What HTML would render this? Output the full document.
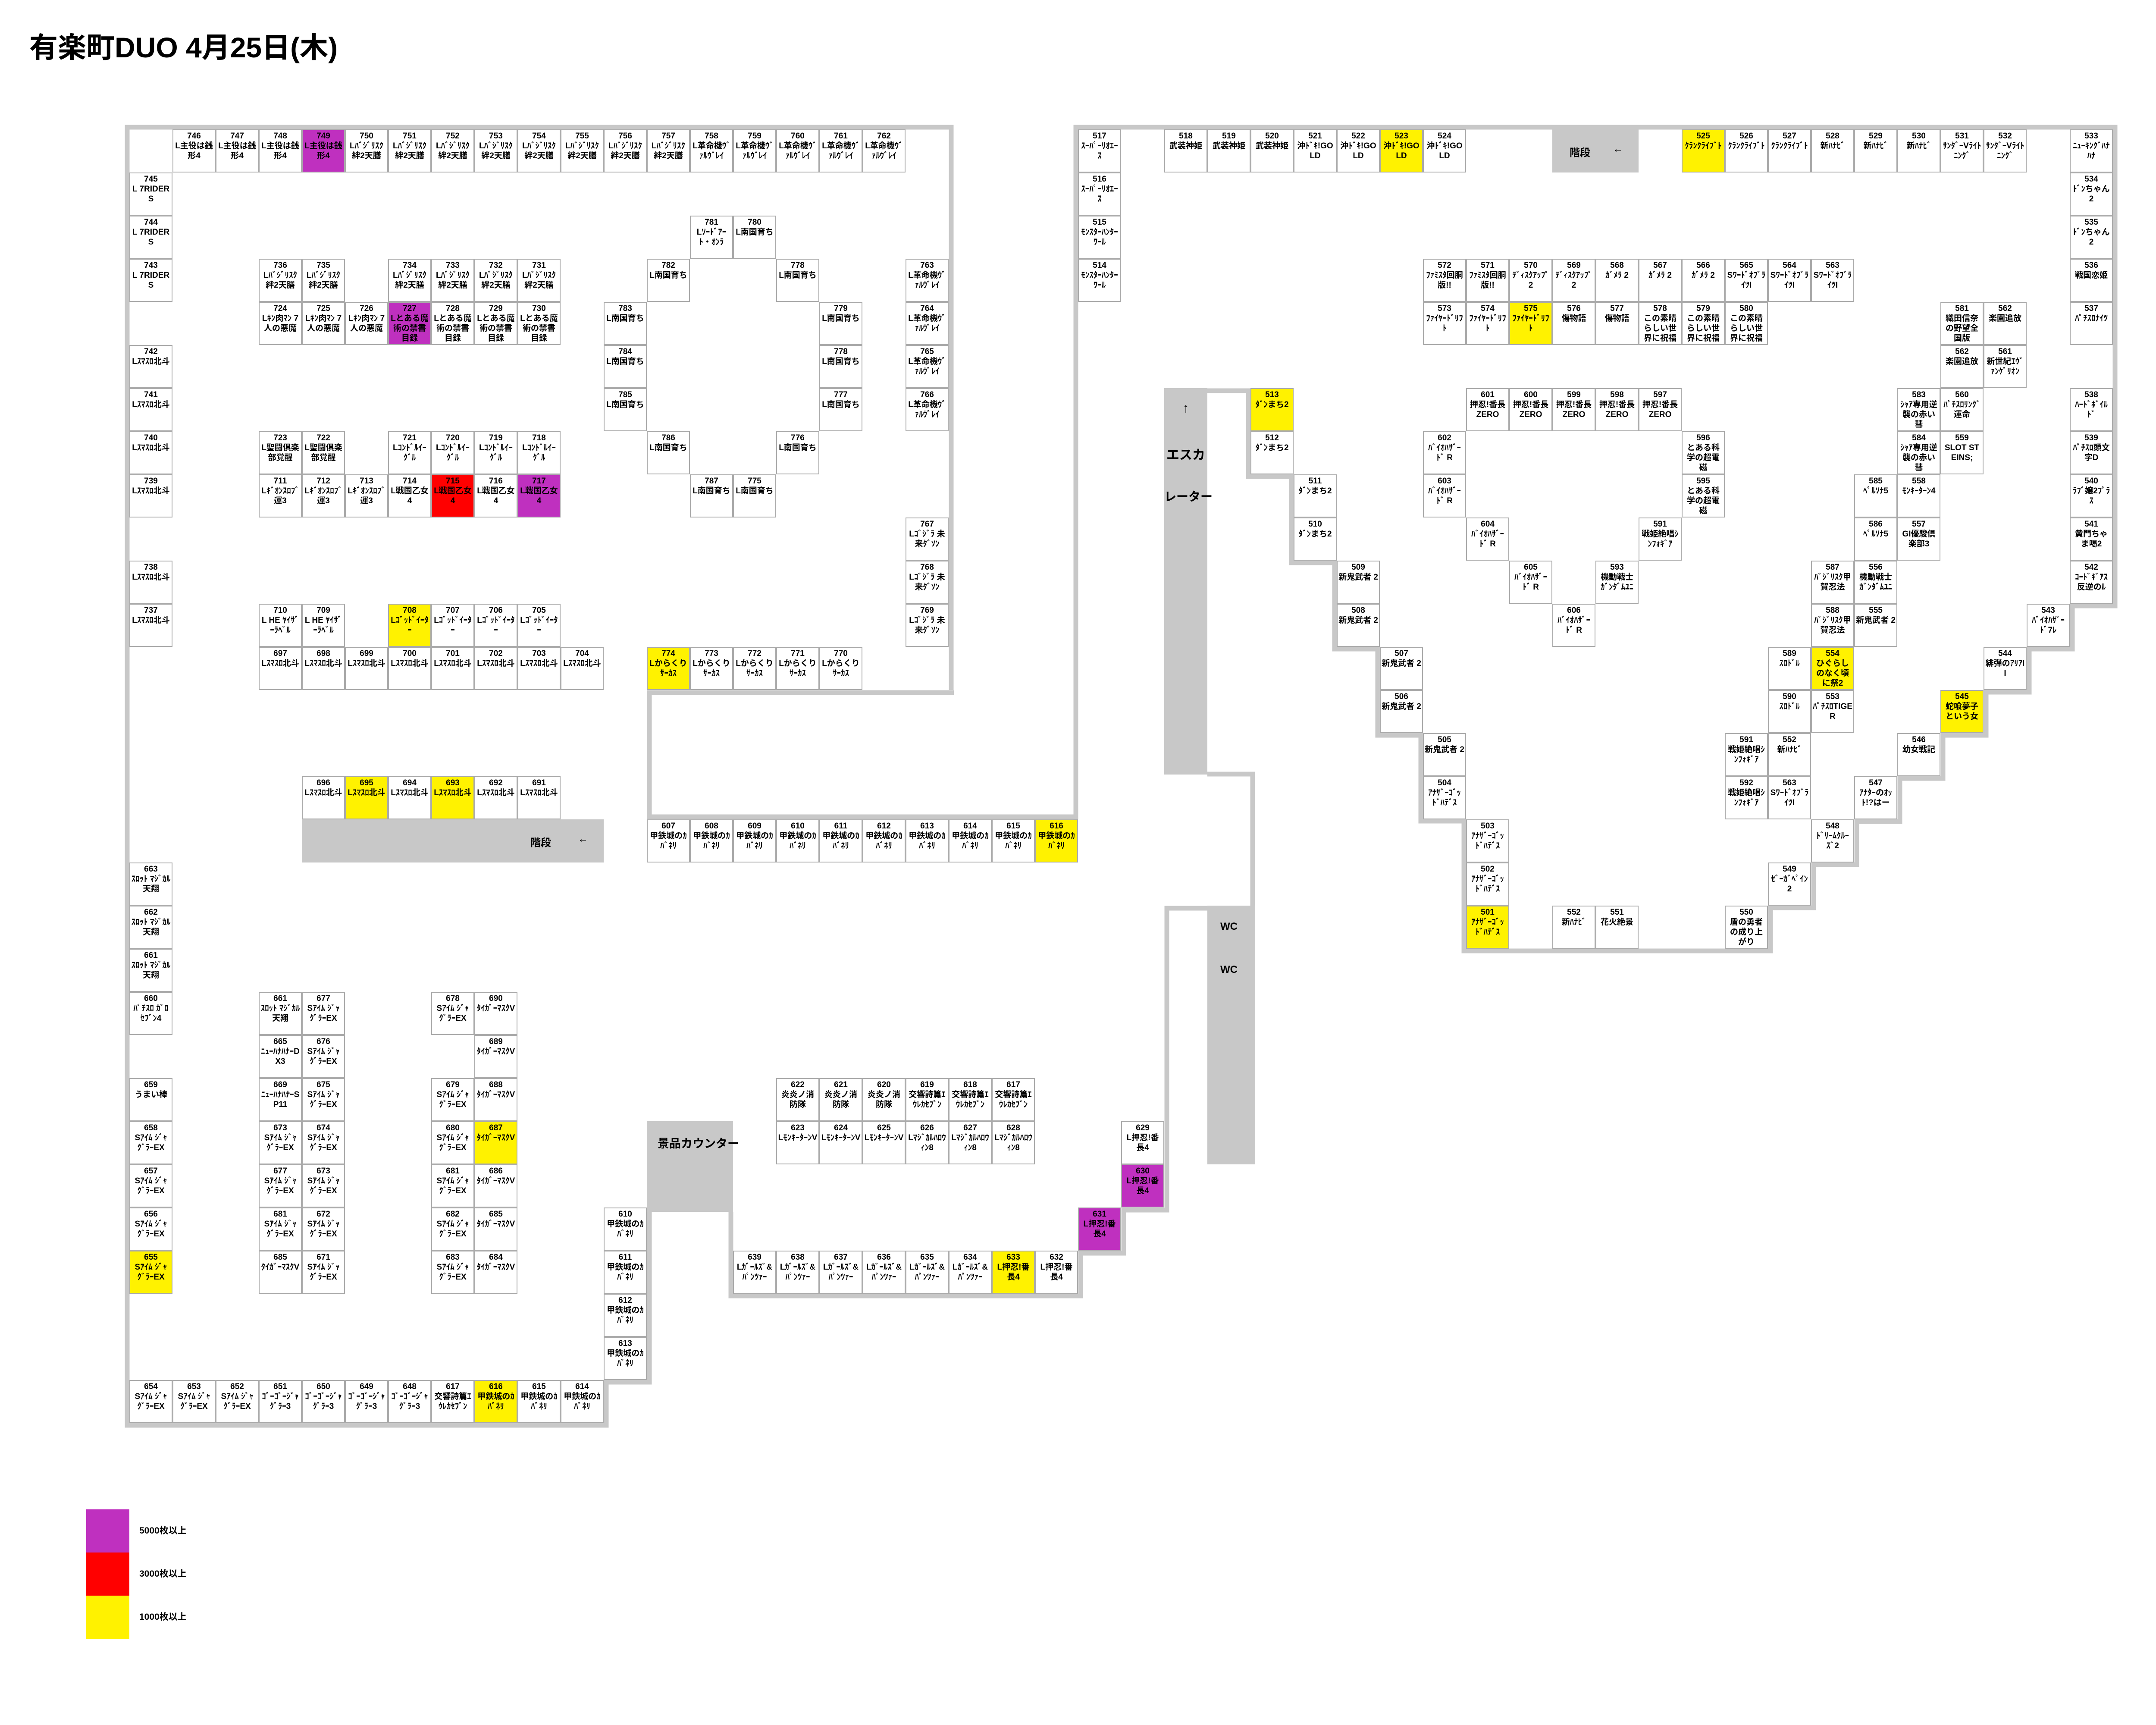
<!DOCTYPE html>
<html><head><meta charset="utf-8">
<style>
html,body{margin:0;padding:0;background:#fff;}
#w{position:relative;width:5300px;height:4000px;overflow:hidden;background:#fff;font-family:"Liberation Sans","Noto Sans CJK JP",sans-serif;}
.c{position:absolute;width:100px;height:100px;box-sizing:border-box;border:2px solid #aaa;background:#fff;font-weight:bold;font-size:19px;line-height:23px;text-align:center;padding:2px 2px 0;overflow:hidden;word-break:break-all;color:#000;}
.y{background:#fff200;}
.m{background:#bf30bf;}
.r{background:#ff0000;}
.g{position:absolute;background:#c8c8c8;font-weight:bold;color:#000;}
svg{position:absolute;left:0;top:0;}
.t{position:absolute;font-weight:bold;}
</style></head><body><div id="w">
<div class="t" style="left:68px;top:70px;font-size:66px;line-height:80px;">有楽町DUO 4月25日(木)</div>
<svg width="5300" height="4000"><g fill="none" stroke="#c8c8c8" stroke-width="11" stroke-linejoin="miter">
<polyline points="2206,1600 2206,295 295,295 295,3305 1406,3305 1406,3205 1506,3205 1506,2800"/>
<polyline points="2212,1606 1506,1606 1506,1894 2495,1894"/>
<polyline points="2495,1900 2495,295 4905,295 4905,1405 4806,1405 4806,1505 4706,1505 4706,1605 4606,1605 4606,1705 4506,1705 4506,1805 4406,1805 4406,1905 4306,1905 4306,2005 4206,2005 4206,2105 4106,2105 4106,2205 3395,2205 3395,1904 3295,1904 3295,1705 3195,1705 3195,1505 3095,1505 3095,1305 2995,1305 2995,1105 2895,1105 2895,906 2800,906"/>
<polyline points="2800,1795 2905,1795 2905,2700"/>
<polyline points="2800,2106 2706,2106 2706,2806 2606,2806 2606,2906 2506,2906 2506,3005 1695,3005 1695,2810"/>
</g></svg>
<div class="g" style="left:2700px;top:900px;width:100px;height:896px;text-align:center;font-size:30px;">
<div style="position:absolute;top:30px;width:100px;">↑</div>
<div style="position:absolute;top:130px;width:100px;">エスカ</div>
<div style="position:absolute;top:230px;width:100px;white-space:nowrap;font-size:28px;">レーター</div></div>
<div class="g" style="left:2800px;top:2100px;width:111px;height:600px;font-size:24px;text-align:center;">
<div style="position:absolute;top:35px;width:100px;">WC</div><div style="position:absolute;top:135px;width:100px;">WC</div></div>
<div class="g" style="left:1500px;top:2600px;width:200px;height:210px;font-size:27px;"><div style="position:absolute;left:25px;top:30px;white-space:nowrap;">景品カウンター</div></div>
<div class="g" style="left:700px;top:1900px;width:700px;height:100px;font-size:24px;"><span style="position:absolute;left:530px;top:34px;">階段</span><span style="position:absolute;left:640px;top:32px;">←</span></div>
<div class="g" style="left:3600px;top:300px;width:200px;height:100px;font-size:24px;"><span style="position:absolute;left:40px;top:34px;">階段</span><span style="position:absolute;left:140px;top:32px;">←</span></div>

<!-- left hall top row -->
<div class="c" style="left:400px;top:300px">746<br>L主役は銭形4</div>
<div class="c" style="left:500px;top:300px">747<br>L主役は銭形4</div>
<div class="c" style="left:600px;top:300px">748<br>L主役は銭形4</div>
<div class="c m" style="left:700px;top:300px">749<br>L主役は銭形4</div>
<div class="c" style="left:800px;top:300px">750<br>Lﾊﾞｼﾞﾘｽｸ絆2天膳</div>
<div class="c" style="left:900px;top:300px">751<br>Lﾊﾞｼﾞﾘｽｸ絆2天膳</div>
<div class="c" style="left:1000px;top:300px">752<br>Lﾊﾞｼﾞﾘｽｸ絆2天膳</div>
<div class="c" style="left:1100px;top:300px">753<br>Lﾊﾞｼﾞﾘｽｸ絆2天膳</div>
<div class="c" style="left:1200px;top:300px">754<br>Lﾊﾞｼﾞﾘｽｸ絆2天膳</div>
<div class="c" style="left:1300px;top:300px">755<br>Lﾊﾞｼﾞﾘｽｸ絆2天膳</div>
<div class="c" style="left:1400px;top:300px">756<br>Lﾊﾞｼﾞﾘｽｸ絆2天膳</div>
<div class="c" style="left:1500px;top:300px">757<br>Lﾊﾞｼﾞﾘｽｸ絆2天膳</div>
<div class="c" style="left:1600px;top:300px">758<br>L革命機ｳﾞｧﾙｳﾞﾚｲ</div>
<div class="c" style="left:1700px;top:300px">759<br>L革命機ｳﾞｧﾙｳﾞﾚｲ</div>
<div class="c" style="left:1800px;top:300px">760<br>L革命機ｳﾞｧﾙｳﾞﾚｲ</div>
<div class="c" style="left:1900px;top:300px">761<br>L革命機ｳﾞｧﾙｳﾞﾚｲ</div>
<div class="c" style="left:2000px;top:300px">762<br>L革命機ｳﾞｧﾙｳﾞﾚｲ</div>
<div class="c" style="left:2100px;top:600px">763<br>L革命機ｳﾞｧﾙｳﾞﾚｲ</div>
<div class="c" style="left:2100px;top:700px">764<br>L革命機ｳﾞｧﾙｳﾞﾚｲ</div>
<div class="c" style="left:2100px;top:800px">765<br>L革命機ｳﾞｧﾙｳﾞﾚｲ</div>
<div class="c" style="left:2100px;top:900px">766<br>L革命機ｳﾞｧﾙｳﾞﾚｲ</div>
<div class="c" style="left:2100px;top:1200px">767<br>Lｺﾞｼﾞﾗ 未来ﾀﾞｿﾝ</div>
<div class="c" style="left:2100px;top:1300px">768<br>Lｺﾞｼﾞﾗ 未来ﾀﾞｿﾝ</div>
<div class="c" style="left:2100px;top:1400px">769<br>Lｺﾞｼﾞﾗ 未来ﾀﾞｿﾝ</div>
<!-- left column -->
<div class="c" style="left:300px;top:400px">745<br>L 7RIDERS</div>
<div class="c" style="left:300px;top:500px">744<br>L 7RIDERS</div>
<div class="c" style="left:300px;top:600px">743<br>L 7RIDERS</div>
<div class="c" style="left:300px;top:800px">742<br>Lｽﾏｽﾛ北斗</div>
<div class="c" style="left:300px;top:900px">741<br>Lｽﾏｽﾛ北斗</div>
<div class="c" style="left:300px;top:1000px">740<br>Lｽﾏｽﾛ北斗</div>
<div class="c" style="left:300px;top:1100px">739<br>Lｽﾏｽﾛ北斗</div>
<div class="c" style="left:300px;top:1300px">738<br>Lｽﾏｽﾛ北斗</div>
<div class="c" style="left:300px;top:1400px">737<br>Lｽﾏｽﾛ北斗</div>
<!-- islands -->
<div class="c" style="left:600px;top:600px">736<br>Lﾊﾞｼﾞﾘｽｸ絆2天膳</div>
<div class="c" style="left:700px;top:600px">735<br>Lﾊﾞｼﾞﾘｽｸ絆2天膳</div>
<div class="c" style="left:900px;top:600px">734<br>Lﾊﾞｼﾞﾘｽｸ絆2天膳</div>
<div class="c" style="left:1000px;top:600px">733<br>Lﾊﾞｼﾞﾘｽｸ絆2天膳</div>
<div class="c" style="left:1100px;top:600px">732<br>Lﾊﾞｼﾞﾘｽｸ絆2天膳</div>
<div class="c" style="left:1200px;top:600px">731<br>Lﾊﾞｼﾞﾘｽｸ絆2天膳</div>
<div class="c" style="left:600px;top:700px">724<br>Lｷﾝ肉ﾏﾝ 7人の悪魔</div>
<div class="c" style="left:700px;top:700px">725<br>Lｷﾝ肉ﾏﾝ 7人の悪魔</div>
<div class="c" style="left:800px;top:700px">726<br>Lｷﾝ肉ﾏﾝ 7人の悪魔</div>
<div class="c m" style="left:900px;top:700px">727<br>Lとある魔術の禁書目録</div>
<div class="c" style="left:1000px;top:700px">728<br>Lとある魔術の禁書目録</div>
<div class="c" style="left:1100px;top:700px">729<br>Lとある魔術の禁書目録</div>
<div class="c" style="left:1200px;top:700px">730<br>Lとある魔術の禁書目録</div>
<div class="c" style="left:600px;top:1000px">723<br>L聖闘俱楽部覚醒</div>
<div class="c" style="left:700px;top:1000px">722<br>L聖闘俱楽部覚醒</div>
<div class="c" style="left:900px;top:1000px">721<br>Lｺﾝﾄﾞﾙｲｰｸﾞﾙ</div>
<div class="c" style="left:1000px;top:1000px">720<br>Lｺﾝﾄﾞﾙｲｰｸﾞﾙ</div>
<div class="c" style="left:1100px;top:1000px">719<br>Lｺﾝﾄﾞﾙｲｰｸﾞﾙ</div>
<div class="c" style="left:1200px;top:1000px">718<br>Lｺﾝﾄﾞﾙｲｰｸﾞﾙ</div>
<div class="c" style="left:600px;top:1100px">711<br>Lｷﾞｵﾝｽﾛﾌﾞ運3</div>
<div class="c" style="left:700px;top:1100px">712<br>Lｷﾞｵﾝｽﾛﾌﾞ運3</div>
<div class="c" style="left:800px;top:1100px">713<br>Lｷﾞｵﾝｽﾛﾌﾞ運3</div>
<div class="c" style="left:900px;top:1100px">714<br>L戦国乙女4</div>
<div class="c r" style="left:1000px;top:1100px">715<br>L戦国乙女4</div>
<div class="c" style="left:1100px;top:1100px">716<br>L戦国乙女4</div>
<div class="c m" style="left:1200px;top:1100px">717<br>L戦国乙女4</div>
<div class="c" style="left:600px;top:1400px">710<br>L HE ﾔｲｻﾞｰﾗﾍﾞﾙ</div>
<div class="c" style="left:700px;top:1400px">709<br>L HE ﾔｲｻﾞｰﾗﾍﾞﾙ</div>
<div class="c y" style="left:900px;top:1400px">708<br>Lｺﾞｯﾄﾞｲｰﾀｰ</div>
<div class="c" style="left:1000px;top:1400px">707<br>Lｺﾞｯﾄﾞｲｰﾀｰ</div>
<div class="c" style="left:1100px;top:1400px">706<br>Lｺﾞｯﾄﾞｲｰﾀｰ</div>
<div class="c" style="left:1200px;top:1400px">705<br>Lｺﾞｯﾄﾞｲｰﾀｰ</div>
<div class="c" style="left:600px;top:1500px">697<br>Lｽﾏｽﾛ北斗</div>
<div class="c" style="left:700px;top:1500px">698<br>Lｽﾏｽﾛ北斗</div>
<div class="c" style="left:800px;top:1500px">699<br>Lｽﾏｽﾛ北斗</div>
<div class="c" style="left:900px;top:1500px">700<br>Lｽﾏｽﾛ北斗</div>
<div class="c" style="left:1000px;top:1500px">701<br>Lｽﾏｽﾛ北斗</div>
<div class="c" style="left:1100px;top:1500px">702<br>Lｽﾏｽﾛ北斗</div>
<div class="c" style="left:1200px;top:1500px">703<br>Lｽﾏｽﾛ北斗</div>
<div class="c" style="left:1300px;top:1500px">704<br>Lｽﾏｽﾛ北斗</div>
<div class="c" style="left:700px;top:1800px">696<br>Lｽﾏｽﾛ北斗</div>
<div class="c y" style="left:800px;top:1800px">695<br>Lｽﾏｽﾛ北斗</div>
<div class="c" style="left:900px;top:1800px">694<br>Lｽﾏｽﾛ北斗</div>
<div class="c y" style="left:1000px;top:1800px">693<br>Lｽﾏｽﾛ北斗</div>
<div class="c" style="left:1100px;top:1800px">692<br>Lｽﾏｽﾛ北斗</div>
<div class="c" style="left:1200px;top:1800px">691<br>Lｽﾏｽﾛ北斗</div>
<!-- nankoku ring -->
<div class="c" style="left:1600px;top:500px">781<br>Lｿｰﾄﾞｱｰﾄ・ｵﾝﾗ</div>
<div class="c" style="left:1700px;top:500px">780<br>L南国育ち</div>
<div class="c" style="left:1500px;top:600px">782<br>L南国育ち</div>
<div class="c" style="left:1800px;top:600px">778<br>L南国育ち</div>
<div class="c" style="left:1400px;top:700px">783<br>L南国育ち</div>
<div class="c" style="left:1900px;top:700px">779<br>L南国育ち</div>
<div class="c" style="left:1400px;top:800px">784<br>L南国育ち</div>
<div class="c" style="left:1900px;top:800px">778<br>L南国育ち</div>
<div class="c" style="left:1400px;top:900px">785<br>L南国育ち</div>
<div class="c" style="left:1900px;top:900px">777<br>L南国育ち</div>
<div class="c" style="left:1500px;top:1000px">786<br>L南国育ち</div>
<div class="c" style="left:1800px;top:1000px">776<br>L南国育ち</div>
<div class="c" style="left:1600px;top:1100px">787<br>L南国育ち</div>
<div class="c" style="left:1700px;top:1100px">775<br>L南国育ち</div>
<div class="c y" style="left:1500px;top:1500px">774<br>Lからくりｻｰｶｽ</div>
<div class="c" style="left:1600px;top:1500px">773<br>Lからくりｻｰｶｽ</div>
<div class="c" style="left:1700px;top:1500px">772<br>Lからくりｻｰｶｽ</div>
<div class="c" style="left:1800px;top:1500px">771<br>Lからくりｻｰｶｽ</div>
<div class="c" style="left:1900px;top:1500px">770<br>Lからくりｻｰｶｽ</div>
<!-- 607 row -->
<div class="c" style="left:1500px;top:1900px">607<br>甲鉄城のｶﾊﾞﾈﾘ</div>
<div class="c" style="left:1600px;top:1900px">608<br>甲鉄城のｶﾊﾞﾈﾘ</div>
<div class="c" style="left:1700px;top:1900px">609<br>甲鉄城のｶﾊﾞﾈﾘ</div>
<div class="c" style="left:1800px;top:1900px">610<br>甲鉄城のｶﾊﾞﾈﾘ</div>
<div class="c" style="left:1900px;top:1900px">611<br>甲鉄城のｶﾊﾞﾈﾘ</div>
<div class="c" style="left:2000px;top:1900px">612<br>甲鉄城のｶﾊﾞﾈﾘ</div>
<div class="c" style="left:2100px;top:1900px">613<br>甲鉄城のｶﾊﾞﾈﾘ</div>
<div class="c" style="left:2200px;top:1900px">614<br>甲鉄城のｶﾊﾞﾈﾘ</div>
<div class="c" style="left:2300px;top:1900px">615<br>甲鉄城のｶﾊﾞﾈﾘ</div>
<div class="c y" style="left:2400px;top:1900px">616<br>甲鉄城のｶﾊﾞﾈﾘ</div>
<!-- lower left -->
<div class="c" style="left:300px;top:2000px">663<br>ｽﾛｯﾄ ﾏｼﾞｶﾙ天翔</div>
<div class="c" style="left:300px;top:2100px">662<br>ｽﾛｯﾄ ﾏｼﾞｶﾙ天翔</div>
<div class="c" style="left:300px;top:2200px">661<br>ｽﾛｯﾄ ﾏｼﾞｶﾙ天翔</div>
<div class="c" style="left:300px;top:2300px">660<br>ﾊﾟﾁｽﾛ ｶﾞﾛ ｾﾌﾞﾝ4</div>
<div class="c" style="left:300px;top:2500px">659<br>うまい棒</div>
<div class="c" style="left:300px;top:2600px">658<br>Sｱｲﾑ ｼﾞｬｸﾞﾗｰEX</div>
<div class="c" style="left:300px;top:2700px">657<br>Sｱｲﾑ ｼﾞｬｸﾞﾗｰEX</div>
<div class="c" style="left:300px;top:2800px">656<br>Sｱｲﾑ ｼﾞｬｸﾞﾗｰEX</div>
<div class="c y" style="left:300px;top:2900px">655<br>Sｱｲﾑ ｼﾞｬｸﾞﾗｰEX</div>
<div class="c" style="left:600px;top:2300px">661<br>ｽﾛｯﾄ ﾏｼﾞｶﾙ天翔</div>
<div class="c" style="left:600px;top:2400px">665<br>ﾆｭｰﾊﾅﾊﾅｰDX3</div>
<div class="c" style="left:600px;top:2500px">669<br>ﾆｭｰﾊﾅﾊﾅｰSP11</div>
<div class="c" style="left:600px;top:2600px">673<br>Sｱｲﾑ ｼﾞｬｸﾞﾗｰEX</div>
<div class="c" style="left:600px;top:2700px">677<br>Sｱｲﾑ ｼﾞｬｸﾞﾗｰEX</div>
<div class="c" style="left:600px;top:2800px">681<br>Sｱｲﾑ ｼﾞｬｸﾞﾗｰEX</div>
<div class="c" style="left:600px;top:2900px">685<br>ﾀｲｶﾞｰﾏｽｸV</div>
<div class="c" style="left:700px;top:2300px">677<br>Sｱｲﾑ ｼﾞｬｸﾞﾗｰEX</div>
<div class="c" style="left:700px;top:2400px">676<br>Sｱｲﾑ ｼﾞｬｸﾞﾗｰEX</div>
<div class="c" style="left:700px;top:2500px">675<br>Sｱｲﾑ ｼﾞｬｸﾞﾗｰEX</div>
<div class="c" style="left:700px;top:2600px">674<br>Sｱｲﾑ ｼﾞｬｸﾞﾗｰEX</div>
<div class="c" style="left:700px;top:2700px">673<br>Sｱｲﾑ ｼﾞｬｸﾞﾗｰEX</div>
<div class="c" style="left:700px;top:2800px">672<br>Sｱｲﾑ ｼﾞｬｸﾞﾗｰEX</div>
<div class="c" style="left:700px;top:2900px">671<br>Sｱｲﾑ ｼﾞｬｸﾞﾗｰEX</div>
<div class="c" style="left:1000px;top:2300px">678<br>Sｱｲﾑ ｼﾞｬｸﾞﾗｰEX</div>
<div class="c" style="left:1000px;top:2500px">679<br>Sｱｲﾑ ｼﾞｬｸﾞﾗｰEX</div>
<div class="c" style="left:1000px;top:2600px">680<br>Sｱｲﾑ ｼﾞｬｸﾞﾗｰEX</div>
<div class="c" style="left:1000px;top:2700px">681<br>Sｱｲﾑ ｼﾞｬｸﾞﾗｰEX</div>
<div class="c" style="left:1000px;top:2800px">682<br>Sｱｲﾑ ｼﾞｬｸﾞﾗｰEX</div>
<div class="c" style="left:1000px;top:2900px">683<br>Sｱｲﾑ ｼﾞｬｸﾞﾗｰEX</div>
<div class="c" style="left:1100px;top:2300px">690<br>ﾀｲｶﾞｰﾏｽｸV</div>
<div class="c" style="left:1100px;top:2400px">689<br>ﾀｲｶﾞｰﾏｽｸV</div>
<div class="c" style="left:1100px;top:2500px">688<br>ﾀｲｶﾞｰﾏｽｸV</div>
<div class="c y" style="left:1100px;top:2600px">687<br>ﾀｲｶﾞｰﾏｽｸV</div>
<div class="c" style="left:1100px;top:2700px">686<br>ﾀｲｶﾞｰﾏｽｸV</div>
<div class="c" style="left:1100px;top:2800px">685<br>ﾀｲｶﾞｰﾏｽｸV</div>
<div class="c" style="left:1100px;top:2900px">684<br>ﾀｲｶﾞｰﾏｽｸV</div>
<div class="c" style="left:1400px;top:2800px">610<br>甲鉄城のｶﾊﾞﾈﾘ</div>
<div class="c" style="left:1400px;top:2900px">611<br>甲鉄城のｶﾊﾞﾈﾘ</div>
<div class="c" style="left:1400px;top:3000px">612<br>甲鉄城のｶﾊﾞﾈﾘ</div>
<div class="c" style="left:1400px;top:3100px">613<br>甲鉄城のｶﾊﾞﾈﾘ</div>
<div class="c" style="left:300px;top:3200px">654<br>Sｱｲﾑ ｼﾞｬｸﾞﾗｰEX</div>
<div class="c" style="left:400px;top:3200px">653<br>Sｱｲﾑ ｼﾞｬｸﾞﾗｰEX</div>
<div class="c" style="left:500px;top:3200px">652<br>Sｱｲﾑ ｼﾞｬｸﾞﾗｰEX</div>
<div class="c" style="left:600px;top:3200px">651<br>ｺﾞｰｺﾞｰｼﾞｬｸﾞﾗｰ3</div>
<div class="c" style="left:700px;top:3200px">650<br>ｺﾞｰｺﾞｰｼﾞｬｸﾞﾗｰ3</div>
<div class="c" style="left:800px;top:3200px">649<br>ｺﾞｰｺﾞｰｼﾞｬｸﾞﾗｰ3</div>
<div class="c" style="left:900px;top:3200px">648<br>ｺﾞｰｺﾞｰｼﾞｬｸﾞﾗｰ3</div>
<div class="c" style="left:1000px;top:3200px">617<br>交響詩篇ｴｳﾚｶｾﾌﾞﾝ</div>
<div class="c y" style="left:1100px;top:3200px">616<br>甲鉄城のｶﾊﾞﾈﾘ</div>
<div class="c" style="left:1200px;top:3200px">615<br>甲鉄城のｶﾊﾞﾈﾘ</div>
<div class="c" style="left:1300px;top:3200px">614<br>甲鉄城のｶﾊﾞﾈﾘ</div>
<!-- middle bottom -->
<div class="c" style="left:1800px;top:2500px">622<br>炎炎ノ消防隊</div>
<div class="c" style="left:1900px;top:2500px">621<br>炎炎ノ消防隊</div>
<div class="c" style="left:2000px;top:2500px">620<br>炎炎ノ消防隊</div>
<div class="c" style="left:2100px;top:2500px">619<br>交響詩篇ｴｳﾚｶｾﾌﾞﾝ</div>
<div class="c" style="left:2200px;top:2500px">618<br>交響詩篇ｴｳﾚｶｾﾌﾞﾝ</div>
<div class="c" style="left:2300px;top:2500px">617<br>交響詩篇ｴｳﾚｶｾﾌﾞﾝ</div>
<div class="c" style="left:1800px;top:2600px">623<br>LﾓﾝｷｰﾀｰﾝV</div>
<div class="c" style="left:1900px;top:2600px">624<br>LﾓﾝｷｰﾀｰﾝV</div>
<div class="c" style="left:2000px;top:2600px">625<br>LﾓﾝｷｰﾀｰﾝV</div>
<div class="c" style="left:2100px;top:2600px">626<br>Lﾏｼﾞｶﾙﾊﾛｳｨﾝ8</div>
<div class="c" style="left:2200px;top:2600px">627<br>Lﾏｼﾞｶﾙﾊﾛｳｨﾝ8</div>
<div class="c" style="left:2300px;top:2600px">628<br>Lﾏｼﾞｶﾙﾊﾛｳｨﾝ8</div>
<div class="c" style="left:1700px;top:2900px">639<br>Lｶﾞｰﾙｽﾞ&amp;ﾊﾟﾝﾂｧｰ</div>
<div class="c" style="left:1800px;top:2900px">638<br>Lｶﾞｰﾙｽﾞ&amp;ﾊﾟﾝﾂｧｰ</div>
<div class="c" style="left:1900px;top:2900px">637<br>Lｶﾞｰﾙｽﾞ&amp;ﾊﾟﾝﾂｧｰ</div>
<div class="c" style="left:2000px;top:2900px">636<br>Lｶﾞｰﾙｽﾞ&amp;ﾊﾟﾝﾂｧｰ</div>
<div class="c" style="left:2100px;top:2900px">635<br>Lｶﾞｰﾙｽﾞ&amp;ﾊﾟﾝﾂｧｰ</div>
<div class="c" style="left:2200px;top:2900px">634<br>Lｶﾞｰﾙｽﾞ&amp;ﾊﾟﾝﾂｧｰ</div>
<div class="c y" style="left:2300px;top:2900px">633<br>L押忍!番長4</div>
<div class="c" style="left:2400px;top:2900px">632<br>L押忍!番長4</div>
<div class="c m" style="left:2500px;top:2800px">631<br>L押忍!番長4</div>
<div class="c m" style="left:2600px;top:2700px">630<br>L押忍!番長4</div>
<div class="c" style="left:2600px;top:2600px">629<br>L押忍!番長4</div>
<!-- right hall -->
<div class="c" style="left:2500px;top:300px">517<br>ｽｰﾊﾟｰﾘｵｴｰｽ</div>
<div class="c" style="left:2500px;top:400px">516<br>ｽｰﾊﾟｰﾘｵｴｰｽ</div>
<div class="c" style="left:2500px;top:500px">515<br>ﾓﾝｽﾀｰﾊﾝﾀｰﾜｰﾙ</div>
<div class="c" style="left:2500px;top:600px">514<br>ﾓﾝｽﾀｰﾊﾝﾀｰﾜｰﾙ</div>
<div class="c" style="left:2700px;top:300px">518<br>武装神姫</div>
<div class="c" style="left:2800px;top:300px">519<br>武装神姫</div>
<div class="c" style="left:2900px;top:300px">520<br>武装神姫</div>
<div class="c" style="left:3000px;top:300px">521<br>沖ﾄﾞｷ!GOLD</div>
<div class="c" style="left:3100px;top:300px">522<br>沖ﾄﾞｷ!GOLD</div>
<div class="c y" style="left:3200px;top:300px">523<br>沖ﾄﾞｷ!GOLD</div>
<div class="c" style="left:3300px;top:300px">524<br>沖ﾄﾞｷ!GOLD</div>
<div class="c y" style="left:3900px;top:300px">525<br>ｸﾗﾝｸﾗｲﾌﾞﾄ</div>
<div class="c" style="left:4000px;top:300px">526<br>ｸﾗﾝｸﾗｲﾌﾞﾄ</div>
<div class="c" style="left:4100px;top:300px">527<br>ｸﾗﾝｸﾗｲﾌﾞﾄ</div>
<div class="c" style="left:4200px;top:300px">528<br>新ﾊﾅﾋﾞ</div>
<div class="c" style="left:4300px;top:300px">529<br>新ﾊﾅﾋﾞ</div>
<div class="c" style="left:4400px;top:300px">530<br>新ﾊﾅﾋﾞ</div>
<div class="c" style="left:4500px;top:300px">531<br>ｻﾝﾀﾞｰVﾗｲﾄﾆﾝｸﾞ</div>
<div class="c" style="left:4600px;top:300px">532<br>ｻﾝﾀﾞｰVﾗｲﾄﾆﾝｸﾞ</div>
<div class="c" style="left:4800px;top:300px">533<br>ﾆｭｰｷﾝｸﾞﾊﾅﾊﾅ</div>
<div class="c" style="left:4800px;top:400px">534<br>ﾄﾞﾝちゃん2</div>
<div class="c" style="left:4800px;top:500px">535<br>ﾄﾞﾝちゃん2</div>
<div class="c" style="left:4800px;top:600px">536<br>戦国恋姫</div>
<div class="c" style="left:4800px;top:700px">537<br>ﾊﾟﾁｽﾛﾅｲﾂ</div>
<div class="c" style="left:4800px;top:900px">538<br>ﾊｰﾄﾞﾎﾞｲﾙﾄﾞ</div>
<div class="c" style="left:4800px;top:1000px">539<br>ﾊﾟﾁｽﾛ頭文字D</div>
<div class="c" style="left:4800px;top:1100px">540<br>ﾗﾌﾞ嬢2ﾌﾟﾗｽ</div>
<div class="c" style="left:4800px;top:1200px">541<br>黄門ちゃま喝2</div>
<div class="c" style="left:4800px;top:1300px">542<br>ｺｰﾄﾞｷﾞｱｽ反逆のﾙ</div>
<div class="c" style="left:4700px;top:1400px">543<br>ﾊﾞｲｵﾊｻﾞｰﾄﾞ7ﾚ</div>
<div class="c" style="left:4600px;top:1500px">544<br>緋弾のｱﾘｱII</div>
<div class="c y" style="left:4500px;top:1600px">545<br>蛇喰夢子という女</div>
<div class="c" style="left:4400px;top:1700px">546<br>幼女戦記</div>
<div class="c" style="left:4300px;top:1800px">547<br>ｱﾅﾀｰのｵｯﾄ!?はー</div>
<div class="c" style="left:4200px;top:1900px">548<br>ﾄﾞﾘｰﾑｸﾙｰｽﾞ2</div>
<div class="c" style="left:4100px;top:2000px">549<br>ｾﾞｰｶﾞﾍﾟｲﾝ2</div>
<div class="c" style="left:4000px;top:2100px">550<br>盾の勇者の成り上がり</div>
<div class="c" style="left:3300px;top:600px">572<br>ﾌｧﾐｽﾀ回胴版!!</div>
<div class="c" style="left:3400px;top:600px">571<br>ﾌｧﾐｽﾀ回胴版!!</div>
<div class="c" style="left:3500px;top:600px">570<br>ﾃﾞｨｽｸｱｯﾌﾟ2</div>
<div class="c" style="left:3600px;top:600px">569<br>ﾃﾞｨｽｸｱｯﾌﾟ2</div>
<div class="c" style="left:3700px;top:600px">568<br>ｶﾞﾒﾗ 2</div>
<div class="c" style="left:3800px;top:600px">567<br>ｶﾞﾒﾗ 2</div>
<div class="c" style="left:3900px;top:600px">566<br>ｶﾞﾒﾗ 2</div>
<div class="c" style="left:4000px;top:600px">565<br>SﾜｰﾄﾞｵﾌﾞﾗｲﾂI</div>
<div class="c" style="left:4100px;top:600px">564<br>SﾜｰﾄﾞｵﾌﾞﾗｲﾂI</div>
<div class="c" style="left:4200px;top:600px">563<br>SﾜｰﾄﾞｵﾌﾞﾗｲﾂI</div>
<div class="c" style="left:3300px;top:700px">573<br>ﾌｧｲﾔｰﾄﾞﾘﾌﾄ</div>
<div class="c" style="left:3400px;top:700px">574<br>ﾌｧｲﾔｰﾄﾞﾘﾌﾄ</div>
<div class="c y" style="left:3500px;top:700px">575<br>ﾌｧｲﾔｰﾄﾞﾘﾌﾄ</div>
<div class="c" style="left:3600px;top:700px">576<br>傷物語</div>
<div class="c" style="left:3700px;top:700px">577<br>傷物語</div>
<div class="c" style="left:3800px;top:700px">578<br>この素晴らしい世界に祝福</div>
<div class="c" style="left:3900px;top:700px">579<br>この素晴らしい世界に祝福</div>
<div class="c" style="left:4000px;top:700px">580<br>この素晴らしい世界に祝福</div>
<div class="c" style="left:4500px;top:700px">581<br>織田信奈の野望全国版</div>
<div class="c" style="left:4600px;top:700px">562<br>楽園追放</div>
<div class="c" style="left:4500px;top:800px">562<br>楽園追放</div>
<div class="c" style="left:4600px;top:800px">561<br>新世紀ｴｳﾞｧﾝｹﾞﾘｵﾝ</div>
<div class="c" style="left:3400px;top:900px">601<br>押忍!番長ZERO</div>
<div class="c" style="left:3500px;top:900px">600<br>押忍!番長ZERO</div>
<div class="c" style="left:3600px;top:900px">599<br>押忍!番長ZERO</div>
<div class="c" style="left:3700px;top:900px">598<br>押忍!番長ZERO</div>
<div class="c" style="left:3800px;top:900px">597<br>押忍!番長ZERO</div>
<div class="c" style="left:3300px;top:1000px">602<br>ﾊﾞｲｵﾊｻﾞｰﾄﾞ R</div>
<div class="c" style="left:3300px;top:1100px">603<br>ﾊﾞｲｵﾊｻﾞｰﾄﾞ R</div>
<div class="c" style="left:3400px;top:1200px">604<br>ﾊﾞｲｵﾊｻﾞｰﾄﾞ R</div>
<div class="c" style="left:3500px;top:1300px">605<br>ﾊﾞｲｵﾊｻﾞｰﾄﾞ R</div>
<div class="c" style="left:3600px;top:1400px">606<br>ﾊﾞｲｵﾊｻﾞｰﾄﾞ R</div>
<div class="c" style="left:3900px;top:1000px">596<br>とある科学の超電磁</div>
<div class="c" style="left:3900px;top:1100px">595<br>とある科学の超電磁</div>
<div class="c" style="left:3800px;top:1200px">591<br>戦姫絶唱ｼﾝﾌｫｷﾞｱ</div>
<div class="c" style="left:3700px;top:1300px">593<br>機動戦士ｶﾞﾝﾀﾞﾑﾕﾆ</div>
<div class="c" style="left:4400px;top:900px">583<br>ｼｬｱ専用逆襲の赤い彗</div>
<div class="c" style="left:4500px;top:900px">560<br>ﾊﾟﾁｽﾛﾘﾝｸﾞ運命</div>
<div class="c" style="left:4400px;top:1000px">584<br>ｼｬｱ専用逆襲の赤い彗</div>
<div class="c" style="left:4500px;top:1000px">559<br>SLOT STEINS;</div>
<div class="c" style="left:4300px;top:1100px">585<br>ﾍﾟﾙｿﾅ5</div>
<div class="c" style="left:4400px;top:1100px">558<br>ﾓﾝｷｰﾀｰﾝ4</div>
<div class="c" style="left:4300px;top:1200px">586<br>ﾍﾟﾙｿﾅ5</div>
<div class="c" style="left:4400px;top:1200px">557<br>GI優駿倶楽部3</div>
<div class="c" style="left:4200px;top:1300px">587<br>ﾊﾞｼﾞﾘｽｸ甲賀忍法</div>
<div class="c" style="left:4300px;top:1300px">556<br>機動戦士ｶﾞﾝﾀﾞﾑﾕﾆ</div>
<div class="c" style="left:4200px;top:1400px">588<br>ﾊﾞｼﾞﾘｽｸ甲賀忍法</div>
<div class="c" style="left:4300px;top:1400px">555<br>新鬼武者 2</div>
<div class="c" style="left:4100px;top:1500px">589<br>ｽﾛﾄﾞﾙ</div>
<div class="c y" style="left:4200px;top:1500px">554<br>ひぐらしのなく頃に祭2</div>
<div class="c" style="left:4100px;top:1600px">590<br>ｽﾛﾄﾞﾙ</div>
<div class="c" style="left:4200px;top:1600px">553<br>ﾊﾟﾁｽﾛTIGER</div>
<div class="c" style="left:4000px;top:1700px">591<br>戦姫絶唱ｼﾝﾌｫｷﾞｱ</div>
<div class="c" style="left:4100px;top:1700px">552<br>新ﾊﾅﾋﾞ</div>
<div class="c" style="left:4000px;top:1800px">592<br>戦姫絶唱ｼﾝﾌｫｷﾞｱ</div>
<div class="c" style="left:4100px;top:1800px">563<br>SﾜｰﾄﾞｵﾌﾞﾗｲﾂI</div>
<div class="c y" style="left:2900px;top:900px">513<br>ﾀﾞﾝまち2</div>
<div class="c" style="left:2900px;top:1000px">512<br>ﾀﾞﾝまち2</div>
<div class="c" style="left:3000px;top:1100px">511<br>ﾀﾞﾝまち2</div>
<div class="c" style="left:3000px;top:1200px">510<br>ﾀﾞﾝまち2</div>
<div class="c" style="left:3100px;top:1300px">509<br>新鬼武者 2</div>
<div class="c" style="left:3100px;top:1400px">508<br>新鬼武者 2</div>
<div class="c" style="left:3200px;top:1500px">507<br>新鬼武者 2</div>
<div class="c" style="left:3200px;top:1600px">506<br>新鬼武者 2</div>
<div class="c" style="left:3300px;top:1700px">505<br>新鬼武者 2</div>
<div class="c" style="left:3300px;top:1800px">504<br>ｱﾅｻﾞｰｺﾞｯﾄﾞﾊﾃﾞｽ</div>
<div class="c" style="left:3400px;top:1900px">503<br>ｱﾅｻﾞｰｺﾞｯﾄﾞﾊﾃﾞｽ</div>
<div class="c" style="left:3400px;top:2000px">502<br>ｱﾅｻﾞｰｺﾞｯﾄﾞﾊﾃﾞｽ</div>
<div class="c y" style="left:3400px;top:2100px">501<br>ｱﾅｻﾞｰｺﾞｯﾄﾞﾊﾃﾞｽ</div>
<div class="c" style="left:3600px;top:2100px">552<br>新ﾊﾅﾋﾞ</div>
<div class="c" style="left:3700px;top:2100px">551<br>花火絶景</div>
<!-- legend -->
<div style="position:absolute;left:200px;top:3500px;width:100px;height:100px;background:#bf30bf"></div>
<div style="position:absolute;left:200px;top:3600px;width:100px;height:100px;background:#ff0000"></div>
<div style="position:absolute;left:200px;top:3700px;width:100px;height:100px;background:#fff200"></div>
<div class="t" style="left:323px;top:3536px;font-size:21px;line-height:28px;">5000枚以上</div>
<div class="t" style="left:323px;top:3636px;font-size:21px;line-height:28px;">3000枚以上</div>
<div class="t" style="left:323px;top:3736px;font-size:21px;line-height:28px;">1000枚以上</div>
</div></body></html>
